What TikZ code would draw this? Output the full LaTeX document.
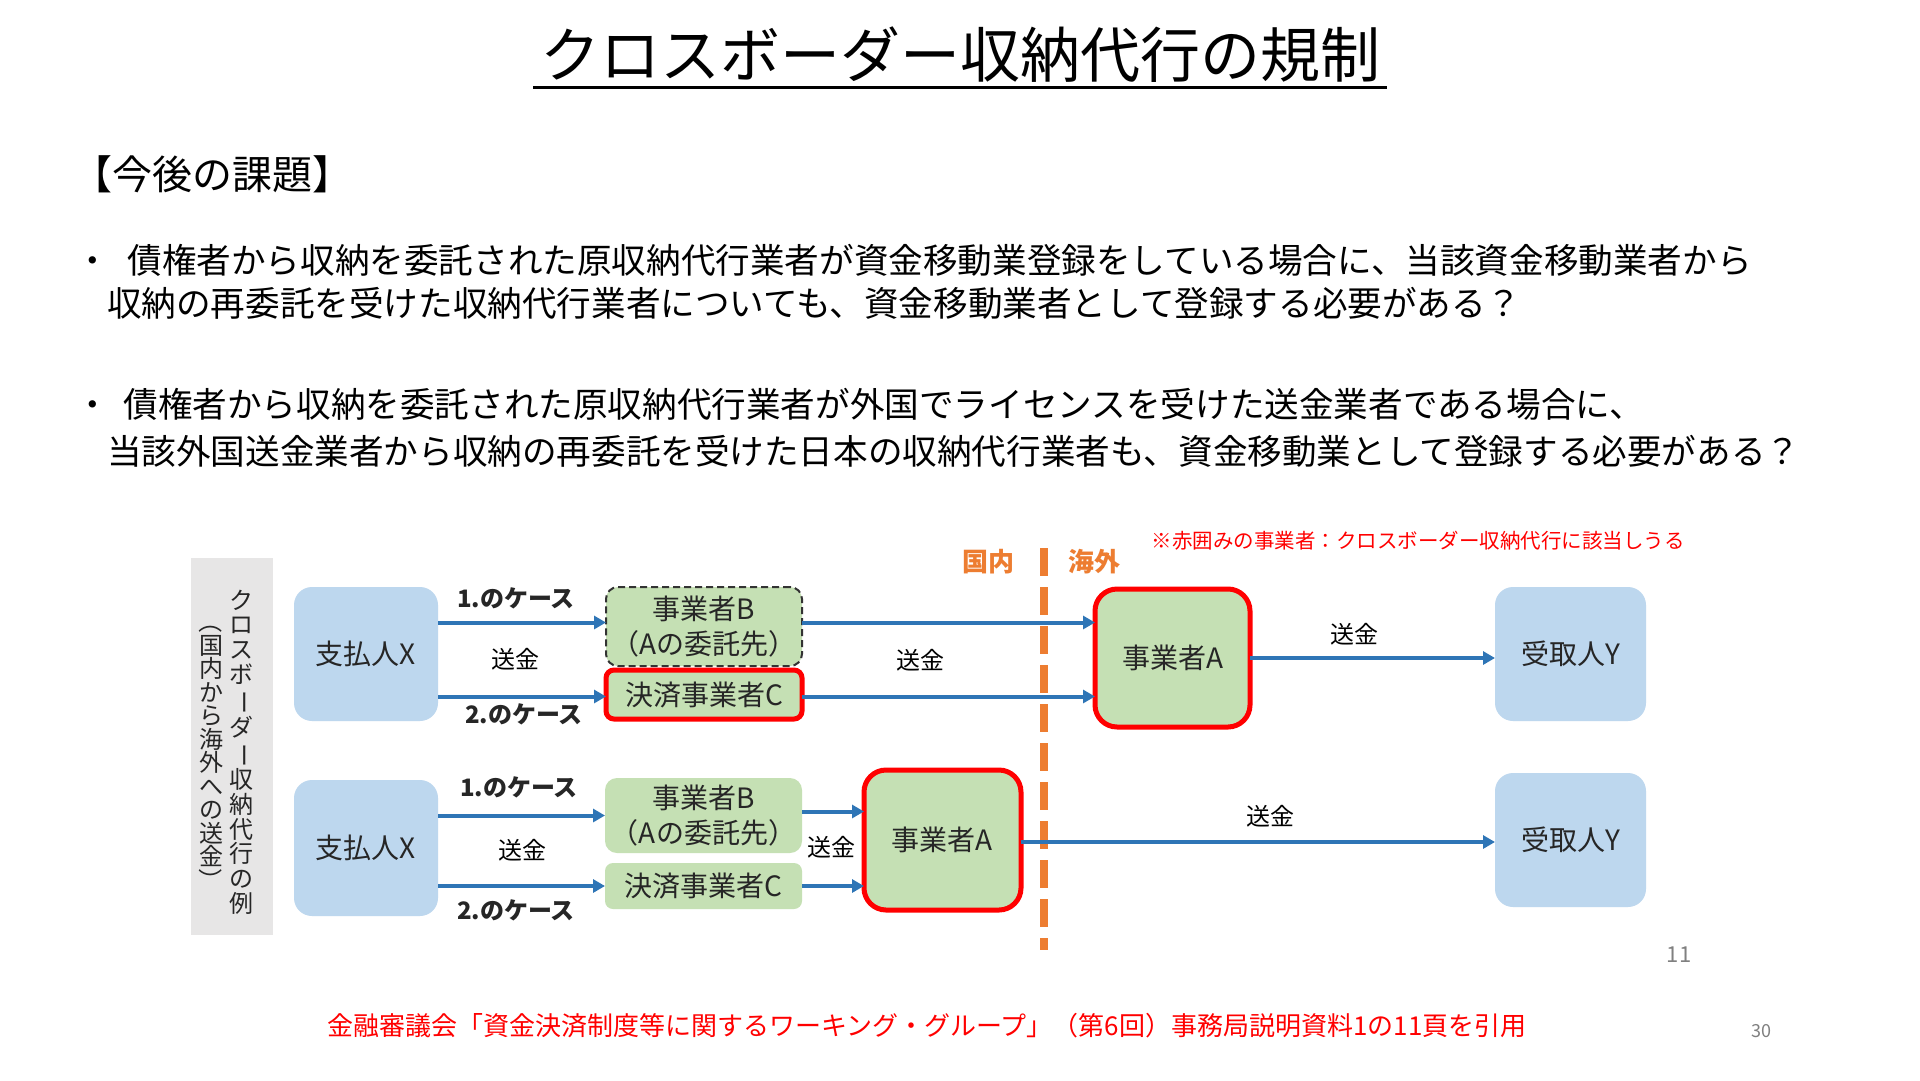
\documentclass[tikz,border=0pt]{standalone}
\usepackage{fontspec}
\setmainfont{Noto Sans CJK JP}
\usepackage{graphicx}
\usetikzlibrary{arrows.meta}
\definecolor{boxblue}{HTML}{BDD7EE}
\definecolor{boxgreen}{HTML}{C5E0B4}
\definecolor{arrowblue}{HTML}{2E75B6}
\definecolor{borange}{HTML}{ED7D31}
\definecolor{redline}{HTML}{FF0000}
\definecolor{graybg}{HTML}{E7E6E6}
\definecolor{boxtext}{HTML}{262626}
\tikzset{
  fsz/.style={font=\fontsize{#1}{#1}\selectfont},
  plain/.style={inner sep=0pt, outer sep=0pt},
  bluebox/.style={plain, fill=boxblue, rounded corners=18pt, text=boxtext, fsz=28},
  greenbox/.style={plain, fill=boxgreen, rounded corners=12pt, text=boxtext, font=\fontsize{28}{35}\selectfont, align=center},
  redborder/.style={draw=redline, line width=5pt},
  dashborder/.style={draw=black!80, line width=2pt, dash pattern=on 7pt off 4pt},
  arr/.style={draw=arrowblue, line width=4pt, -{Triangle[length=12pt,width=13pt]}},
  caselbl/.style={plain, font=\fontsize{24}{24}\selectfont\bfseries, text=boxtext},
  sokin/.style={plain, fsz=24, text=black},
  bodyline/.style={plain, anchor=west, fsz=34.6},
}
\begin{document}
\begin{tikzpicture}[x=1pt,y=-1pt]
\useasboundingbox (0,0) rectangle (1920,1080);
\fill[white] (0,0) rectangle (1920,1080);

% title
\node[plain, fsz=60] (title) at (960,55) {クロスボーダー収納代行の規制};
\draw[line width=3pt] (533,87) -- (1387,87);

\node[plain, anchor=west, fsz=40] (kadai) at (72,174) {【今後の課題】};

\node[bodyline] (l1) at (75,260) {・\hspace{18pt}債権者から収納を委託された原収納代行業者が資金移動業登録をしている場合に、当該資金移動業者から};
\node[bodyline] (l2) at (107,303) {収納の再委託を受けた収納代行業者についても、資金移動業者として登録する必要がある？};
\node[bodyline] (l3) at (75,404) {・\hspace{14pt}債権者から収納を委託された原収納代行業者が外国でライセンスを受けた送金業者である場合に、};
\node[bodyline] (l4) at (107,451) {当該外国送金業者から収納の再委託を受けた日本の収納代行業者も、資金移動業として登録する必要がある？};

% gray side label
\fill[graybg] (191,558) rectangle (273,935);
\node[plain, align=center, font=\fontsize{24}{24.7}\selectfont, text=boxtext] (vcol1) at (241,752)
 {ク\\ロ\\ス\\ボ\\\rotatebox[origin=c]{-90}{ー}\\ダ\\\rotatebox[origin=c]{-90}{ー}\\収\\納\\代\\行\\の\\例};
\node[plain, align=center, font=\fontsize{24}{23.5}\selectfont, text=boxtext] (vcol2) at (211,751)
 {\rotatebox[origin=c]{-90}{（}\\国\\内\\か\\ら\\海\\外\\へ\\の\\送\\金\\\rotatebox[origin=c]{-90}{）}};

% orange border line
\draw[borange, line width=8pt, dash pattern=on 28pt off 11pt] (1044,548) -- (1044,950);
\node[plain, text=borange, font=\fontsize{26}{26}\selectfont\bfseries] (kokunai) at (988,562) {国内};
\node[plain, text=borange, font=\fontsize{26}{26}\selectfont\bfseries] (kaigai) at (1094,562) {海外};
\node[plain, fsz=20.5, text=redline] (note) at (1418,541) {※赤囲みの事業者：クロスボーダー収納代行に該当しうる};

% top row
\node[bluebox, minimum width=144pt, minimum height=134pt] (X1) at (366,654) {支払人X};
\node[greenbox, dashborder, minimum width=196pt, minimum height=79pt] (B1) at (704,626.5) {事業者B\\（Aの委託先）};
\node[greenbox, redborder, rounded corners=8pt, minimum width=196pt, minimum height=49pt] (C1) at (704,694.5) {決済事業者C};
\node[greenbox, redborder, rounded corners=22pt, minimum width=155pt, minimum height=138pt] (A1) at (1172.5,658) {事業者A};
\node[bluebox, minimum width=151pt, minimum height=134pt] (Y1) at (1570.5,654) {受取人Y};

\draw[arr] ([yshift=4pt]X1.east |- B1.west) -- ([yshift=4pt]B1.west);
\draw[arr] ([yshift=-2pt]X1.east |- C1.west) -- ([yshift=-2pt]C1.west);
\draw[arr] ([yshift=4pt]B1.east) -- ([yshift=4pt]B1.east -| A1.west);
\draw[arr] ([yshift=-2pt]C1.east) -- ([yshift=-2pt]C1.east -| A1.west);
\draw[arr] (A1.east) -- (A1.east -| Y1.west);

\node[caselbl] (c11) at (516,598) {1.のケース};
\node[sokin] (s11) at (515,659) {送金};
\node[caselbl] (c12) at (524,714) {2.のケース};
\node[sokin] (s12) at (920,660) {送金};
\node[sokin] (s13) at (1354,634) {送金};

% bottom row
\node[bluebox, minimum width=144pt, minimum height=136pt] (X2) at (366,848) {支払人X};
\node[greenbox, minimum width=197pt, minimum height=75pt] (B2) at (703.5,815.5) {事業者B\\（Aの委託先）};
\node[greenbox, rounded corners=8pt, minimum width=197pt, minimum height=46pt] (C2) at (703.5,886) {決済事業者C};
\node[greenbox, redborder, rounded corners=22pt, minimum width=157pt, minimum height=140pt] (A2) at (942.5,840) {事業者A};
\node[bluebox, minimum width=151pt, minimum height=134pt] (Y2) at (1570.5,840) {受取人Y};

\draw[arr] (X2.east |- B2.west) -- (B2.west);
\draw[arr] (X2.east |- C2.west) -- (C2.west);
\draw[arr] ([yshift=4pt]B2.east) -- ([yshift=4pt]B2.east -| A2.west);
\draw[arr] (C2.east) -- (C2.east -| A2.west);
\draw[arr] ([yshift=-2pt]A2.east) -- ([yshift=-2pt]A2.east -| Y2.west);

\node[caselbl] (c21) at (519,787) {1.のケース};
\node[sokin] (s21) at (522,850) {送金};
\node[caselbl] (c22) at (516,910) {2.のケース};
\node[sokin] (s22) at (831,847) {送金};
\node[sokin] (s23) at (1270,816) {送金};

% page numbers and footer
\node[plain, fsz=22, text=black!50] (p11) at (1679,955) {11};
\node[plain, fsz=26, text=redline] (footer) at (927,1026) {金融審議会「資金決済制度等に関するワーキング・グループ」（第6回）事務局説明資料1の11頁を引用};
\node[plain, fsz=18, text=black!50] (p30) at (1761,1031) {30};
\end{tikzpicture}
\end{document}
